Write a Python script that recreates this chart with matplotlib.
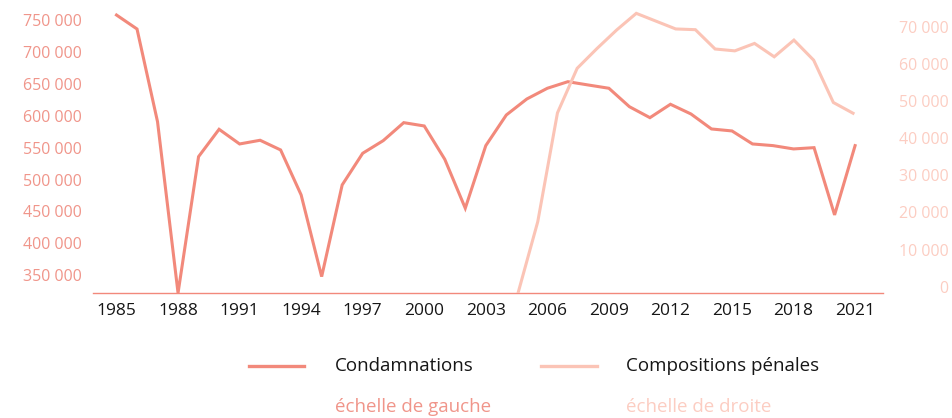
import matplotlib
matplotlib.use("Agg")
import matplotlib.pyplot as plt
from matplotlib.lines import Line2D
from matplotlib.transforms import ScaledTranslation
from matplotlib.ticker import FuncFormatter

plt.rcParams['font.family'] = ['Open Sans', 'DejaVu Sans']

# Condamnations (left scale), 1985-2021
years = list(range(1985, 2022))
condamnations = [767700, 745800, 600500, 332000, 545700, 588600, 565600, 571400, 556200, 485700,
                 357700, 501400, 551000, 570800, 599000, 593800, 541600, 464900, 563000, 611000,
                 636100, 652900, 663200, 658000, 652900, 624000, 606800, 627800, 612600, 589100,
                 586000, 565600, 563000, 557800, 559800, 454400, 563000]

# Compositions pénales (right scale), 2004-2021
years_cp = list(range(2004, 2022))
compositions = [0, 19200, 48500, 60500, 65800, 70800, 75300, 73200, 71100, 70900,
                65700, 65200, 67200, 63600, 68100, 62700, 51300, 48400]

left_ticks = [350000, 400000, 450000, 500000, 550000, 600000, 650000, 700000, 750000]
right_ticks = [0, 10000, 20000, 30000, 40000, 50000, 60000, 70000]
year_ticks = list(range(1985, 2022, 3))

c_main = '#F2897B'
c_light = '#FBC4B6'
c_lab_left = '#F0958A'
c_lab_right = '#FCCDC2'

fmt = FuncFormatter(lambda v, p: f"{int(v):,}".replace(",", " "))

fig = plt.figure(figsize=(9.52, 4.18), dpi=100)
pos = [93/952, 125/418, 790/952, 285/418]
ax = fig.add_axes(pos)
ax.plot(years, condamnations, color=c_main, lw=2.2, solid_joinstyle='miter')
ax.set_xlim(1983.855, 2022.36)
ax.set_ylim(332000, 778700)
ax.set_xticks(year_ticks)
ax.set_yticks(left_ticks)
ax.yaxis.set_major_formatter(fmt)
for s in ['top', 'right', 'left']:
    ax.spines[s].set_visible(False)
ax.spines['bottom'].set_color(c_main)
ax.spines['bottom'].set_linewidth(1.0)
ax.tick_params(axis='x', length=0, pad=7, labelsize=12.5, labelcolor='#161616')
ax.tick_params(axis='y', length=0, pad=8, labelsize=11.5, labelcolor=c_lab_left)
up = ScaledTranslation(0, 6.3/100, fig.dpi_scale_trans)
for lab in ax.get_yticklabels():
    lab.set_transform(lab.get_transform() + up)

ax2 = fig.add_axes(pos, frameon=False)
ax2.plot(years_cp, compositions, color=c_light, lw=2.2, solid_joinstyle='miter')
ax2.set_xlim(1982.43, 2022.52)
ax2.set_ylim(0, 76740)
ax2.set_xticks([])
ax2.yaxis.tick_right()
ax2.set_yticks(right_ticks)
ax2.yaxis.set_major_formatter(fmt)
ax2.tick_params(axis='y', length=0, pad=47, labelsize=11.5, labelcolor=c_lab_right)
for lab in ax2.get_yticklabels():
    lab.set_horizontalalignment('right')
    lab.set_transform(lab.get_transform() + up)

# legend
H = 418
y1 = (H - 366) / H
y2 = (H - 407) / H
fig.add_artist(Line2D([249/952, 304/952], [y1, y1], color=c_main, lw=2.4))
fig.add_artist(Line2D([541/952, 597/952], [y1, y1], color=c_light, lw=2.4))
fig.text(335/952, y1, 'Condamnations', fontsize=13.5, color='#161616', va='center')
fig.text(626/952, y1, 'Compositions pénales', fontsize=13.5, color='#161616', va='center')
fig.text(335/952, y2, 'échelle de gauche', fontsize=13.5, color=c_lab_left, va='center')
fig.text(626/952, y2, 'échelle de droite', fontsize=13.5, color=c_lab_right, va='center')

fig.savefig('out.png', dpi=100)
